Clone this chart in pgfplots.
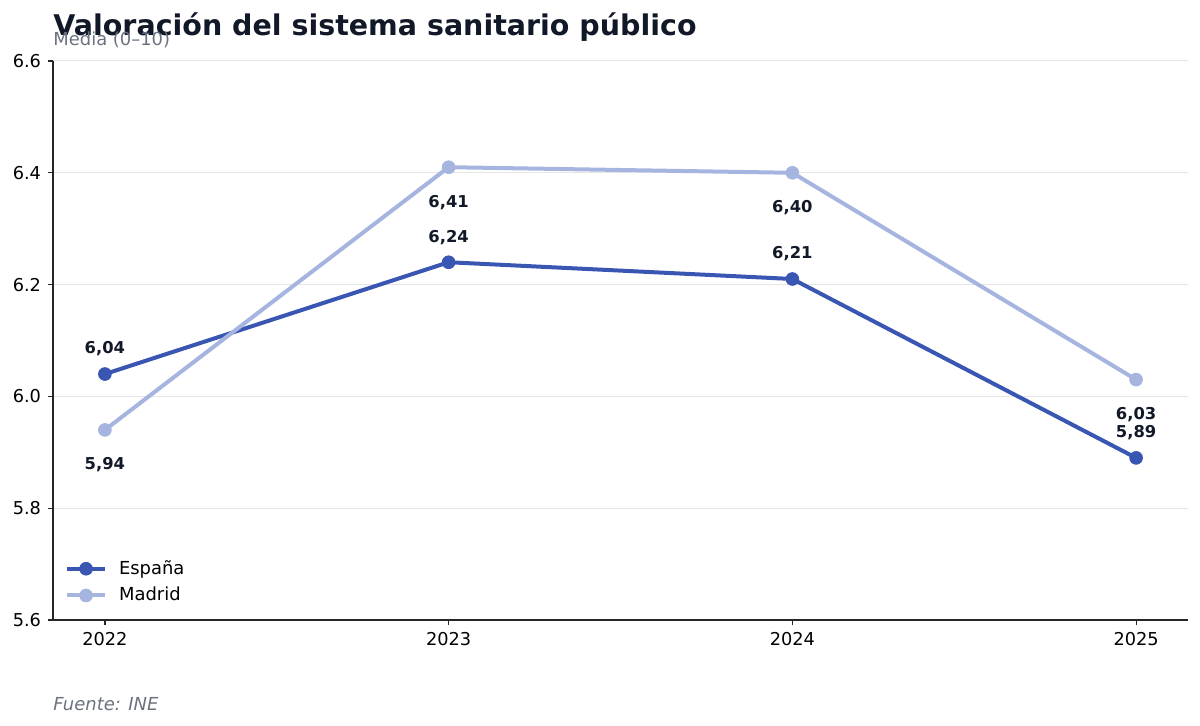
\documentclass[border=0pt]{standalone}
\usepackage{pgfplots}
\pgfplotsset{compat=1.18}
\usepackage{fontspec}
\setmainfont{DejaVu Sans}

\definecolor{espana}{HTML}{3A56B3}
\definecolor{madrid}{HTML}{A6B5DF}
\definecolor{titlec}{HTML}{111827}
\definecolor{subc}{HTML}{6B7280}
\definecolor{gridc}{HTML}{E6E6E6}

\pgfplotstableread{
year val
2022 6.04
2023 6.24
2024 6.21
2025 5.89
}\espana

\pgfplotstableread{
year val
2022 5.94
2023 6.41
2024 6.40
2025 6.03
}\madrid

% 1 px of the 1200x726 target = 0.5bp
\begin{document}
\begin{tikzpicture}
  \path[use as bounding box] (0,0) rectangle (600bp,363bp);

  \begin{axis}[
      at={(26.5bp,53bp)}, anchor=south west,
      scale only axis,
      width=567.5bp, height=279.5bp,
      xmin=2021.849, xmax=2025.151,
      ymin=5.6, ymax=6.6,
      xtick={2022,2023,2024,2025},
      ytick={5.6,5.8,6.0,6.2,6.4,6.6},
      xticklabel style={/pgf/number format/1000 sep={}, /pgf/number format/precision=0},
      yticklabel style={/pgf/number format/fixed,/pgf/number format/precision=1,/pgf/number format/fixed zerofill},
      /pgf/number format/assume math mode=true,
      tick label style={font=\fontsize{8.9}{10}\selectfont},
      axis x line*=bottom, axis y line*=left,
      axis line style={black!85, line width=0.6bp},
      tick style={black!85, line width=0.6bp},
      tick align=outside,
      major tick length=2.5bp,
      ymajorgrids,
      grid style={gridc, line width=0.5bp},
      legend style={draw=none, fill=none, at={(0.005,0.014)}, anchor=south west,
        font=\fontsize{9}{11}\selectfont, row sep=1bp,
        /tikz/every odd column/.append style={column sep=4bp}},
      legend cell align=left,
      legend image code/.code={
        \draw[#1, mark repeat=2, mark phase=2] plot coordinates {(0bp,0bp) (9.5bp,0bp) (19bp,0bp)};
      },
      nodes near coords={\pgfmathprintnumber[use comma,fixed,precision=2,fixed zerofill]{\pgfplotspointmeta}},
      every node near coord/.append style={font=\fontsize{8.2}{10}\selectfont\bfseries, text=titlec},
    ]
    \addplot[espana, line width=2bp, mark=*, mark size=3.2bp, mark options={line width=0.4bp},
      every node near coord/.append style={anchor=center, yshift=12.5bp}]
      table[x=year, y=val] {\espana};
    \addlegendentry{España}
    \addplot[madrid, line width=2bp, mark=*, mark size=3.2bp, mark options={line width=0.4bp},
      every node near coord/.append style={anchor=center, yshift=-17.5bp}]
      table[x=year, y=val] {\madrid};
    \addlegendentry{Madrid}
  \end{axis}

  \node[anchor=base west, inner sep=0, text=titlec, font=\fontsize{14.3}{16}\selectfont\bfseries] at (26.5bp,345bp) {Valoración del sistema sanitario público};
  \node[anchor=base west, inner sep=0, text=subc, font=\fontsize{9}{11}\selectfont] at (26.5bp,340bp) {Media (0–10)};
  \node[anchor=base west, inner sep=0, text=subc, font=\fontsize{9}{11}\selectfont\itshape] at (26.5bp,8bp) {Fuente: INE};
\end{tikzpicture}
\end{document}
